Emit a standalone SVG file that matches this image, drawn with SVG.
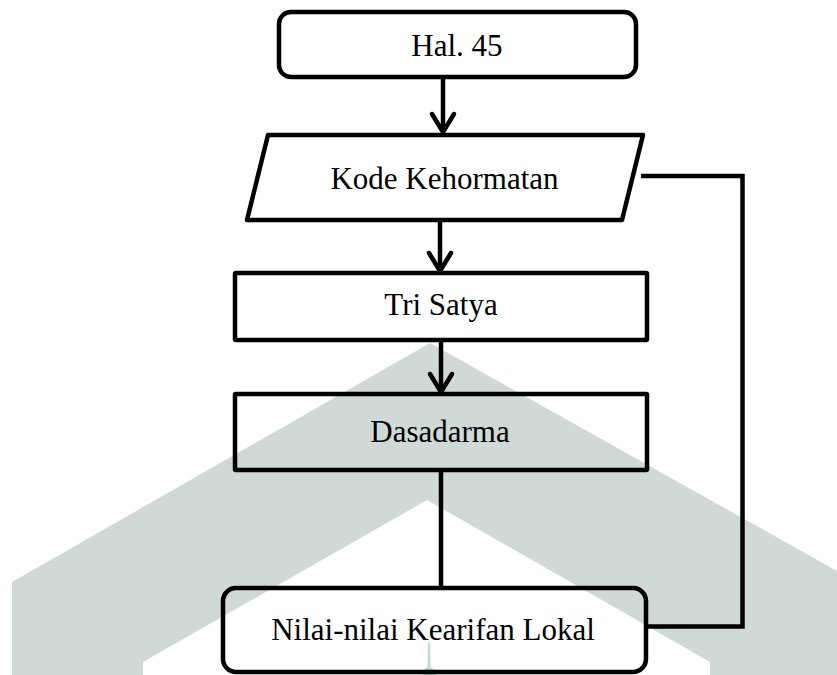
<svg xmlns="http://www.w3.org/2000/svg" width="837" height="675" viewBox="0 0 837 675">
<style>
.box{fill:#ffffff;fill-opacity:0;stroke:#000;stroke-width:4.5;stroke-linejoin:round}
.lbl{font-family:"Liberation Serif","Times New Roman",serif;font-size:31px;fill:#000;text-anchor:middle}
.con{fill:none;stroke:#000;stroke-width:4.5;stroke-linejoin:miter}
.head{fill:none;stroke:#000;stroke-width:4.5;stroke-linecap:round;stroke-linejoin:round}
</style>
<rect width="837" height="675" fill="#ffffff"/>
<g id="watermark">
<polygon points="12,675 12,582 430,343 837,571 837,675 710,675 710,662 427,500 143,662 143,675" fill="#cfd9d6"/>
<path d="M428,643 L430,643 L430.5,667 Q436,670 436,675 L422,675 Q422,670 427.5,667 Z" fill="#b9dccc"/>
</g>
<g id="connectors">
<path class="con" d="M443,77 V131"/>
<path class="head" d="M432,114 L443,132 L454,114"/>
<path class="con" d="M440,220 V270"/>
<path class="head" d="M429,253 L440,271 L451,253"/>
<path class="con" d="M441,340 V391"/>
<path class="head" d="M430,374 L441,392 L452,374"/>
<path class="con" d="M441,470 V588"/>
<path class="con" d="M641,176 H742.5 V626.5 H646"/>
</g>
<g id="n-hal45">
<rect class="box" x="279" y="12" width="357" height="65" rx="12"/>
<text class="lbl" x="457" y="56">Hal. 45</text>
</g>
<g id="n-kode">
<polygon class="box" points="268,135 643,135 622,220 247,220"/>
<text class="lbl" x="444.5" y="189">Kode Kehormatan</text>
</g>
<g id="n-trisatya">
<rect class="box" x="235" y="273" width="412" height="67" rx="1"/>
<text class="lbl" x="441" y="315">Tri Satya</text>
</g>
<g id="n-dasadarma">
<rect class="box" x="235" y="394" width="412" height="76" rx="1"/>
<text class="lbl" x="440" y="442">Dasadarma</text>
</g>
<g id="n-nilai">
<rect class="box" x="223" y="588" width="423" height="84" rx="13"/>
<text class="lbl" x="433" y="640">Nilai-nilai Kearifan Lokal</text>
</g>
</svg>
